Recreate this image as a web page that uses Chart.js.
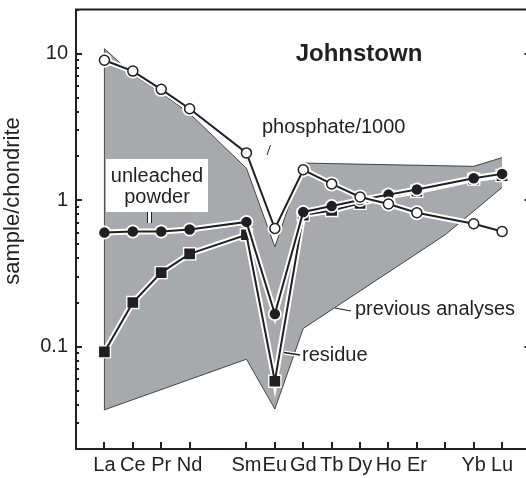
<!DOCTYPE html>
<html>
<head>
<meta charset="utf-8">
<script src="https://cdn.jsdelivr.net/npm/chart.js@4.4.0/dist/chart.umd.min.js"></script>
<style>
  html, body { margin: 0; padding: 0; background: #fff; overflow: hidden; }
  #wrap { width: 540px; height: 478px; }
</style>
</head>
<body>
<div id="wrap"><canvas id="reeChart" width="540" height="478"></canvas></div>
<script>
// REE on atomic number axis (Pm and Tm have no data)
const atomicNo = [57, 58, 59, 60, 62, 63, 64, 65, 66, 67, 68, 70, 71];
const xTickNo = [57, 58, 59, 60, 62, 63, 64, 65, 66, 67, 68, 69, 70, 71];
const xTickLabels = ['La', 'Ce', 'Pr', 'Nd', 'Sm', 'Eu', 'Gd', 'Tb', 'Dy', 'Ho', 'Er', '', 'Yb', 'Lu'];
const yTickLabels = [0.1, 1, 10];

const phosphate = [9.0, 7.6, 5.7, 4.2, 2.1, 0.64, 1.61, 1.29, 1.05, 0.94, 0.82, 0.69, 0.61];
const unleached = [0.60, 0.61, 0.61, 0.63, 0.71, 0.167, 0.83, 0.91, 1.0, 1.09, 1.18, 1.41, 1.51];
const residue = [0.092, 0.20, 0.32, 0.43, 0.58, 0.058, 0.79, 0.85, 0.95, 1.06, 1.15, 1.39, 1.47];

// envelope of previous analyses
const prevUpperX = [57, 58, 59, 60, 62, 63, 64, 70, 71];
const prevUpper = [10.8, 7.2, 5.4, 3.9, 1.65, 0.48, 1.79, 1.70, 1.95];
const prevLowerX = [57, 62, 63, 64, 69, 71];
const prevLower = [0.037, 0.082, 0.0375, 0.133, 0.58, 1.22];

const INK = '#231f20';
const GREY = '#a7a9ac';
const FONT = "'Liberation Sans', Arial, Helvetica, sans-serif";

function pts(xs, ys) { return xs.map((x, i) => ({ x: x, y: ys[i] })); }

function halo(data, style, r, order) {
    return {
        data: data, order: order, borderColor: '#fff', borderWidth: 6,
        pointStyle: style, pointRadius: r, pointBackgroundColor: '#fff',
        pointBorderColor: '#fff', pointBorderWidth: 0, fill: false
    };
}
function series(data, style, r, bg, order) {
    return {
        data: data, order: order, borderColor: INK, borderWidth: 2,
        pointStyle: style, pointRadius: r, pointBackgroundColor: bg,
        pointBorderColor: INK, pointBorderWidth: 1.5, fill: false
    };
}

const frame = {
    id: 'frame',
    afterDraw(chart) {
        const ctx = chart.ctx, a = chart.chartArea;
        const xs = chart.scales.x, ys = chart.scales.y;
        ctx.save();
        ctx.strokeStyle = INK;
        ctx.lineWidth = 2;
        ctx.strokeRect(a.left, a.top, a.right - a.left, a.bottom - a.top);
        // log ticks, inward on both sides
        for (let d = 0.01; d < 100; d *= 10) {
            for (let m = 1; m <= 9; m++) {
                const v = m * d;
                if (v < ys.min || v > ys.max) continue;
                const py = Math.round(ys.getPixelForValue(v));
                const len = m === 1 ? 6 : 3;
                ctx.beginPath();
                ctx.moveTo(a.left, py); ctx.lineTo(a.left + len, py);
                ctx.moveTo(a.right, py); ctx.lineTo(a.right - len, py);
                ctx.stroke();
            }
        }
        xTickNo.forEach(v => {
            const px = Math.round(xs.getPixelForValue(v));
            ctx.beginPath();
            ctx.moveTo(px, a.bottom); ctx.lineTo(px, a.bottom - 7);
            ctx.stroke();
        });
        // axis title
        ctx.fillStyle = INK;
        ctx.font = '22px ' + FONT;
        ctx.translate(19, 201);
        ctx.rotate(-Math.PI / 2);
        ctx.textAlign = 'center';
        ctx.textBaseline = 'alphabetic';
        ctx.fillText('sample/chondrite', 0, 0);
        ctx.restore();
    }
};

const notes = {
    id: 'notes',
    afterDatasetsDraw(chart) {
        const ctx = chart.ctx;
        ctx.save();
        ctx.fillStyle = INK;
        ctx.strokeStyle = INK;
        ctx.textBaseline = 'alphabetic';

        ctx.font = 'bold 24px ' + FONT;
        ctx.textAlign = 'center';
        ctx.fillText('Johnstown', 359, 61);

        ctx.font = '20px ' + FONT;
        ctx.textAlign = 'left';
        ctx.fillText('phosphate/1000', 262, 133);
        ctx.lineWidth = 1;
        ctx.beginPath(); ctx.moveTo(270.5, 145); ctx.lineTo(267, 155); ctx.stroke();

        // unleached powder box
        ctx.fillStyle = '#fff';
        ctx.fillRect(106, 159, 102, 53);
        ctx.fillRect(147, 211, 5, 12);
        ctx.fillStyle = INK;
        ctx.beginPath();
        ctx.moveTo(147.5, 212); ctx.lineTo(147.5, 223);
        ctx.moveTo(151.5, 212); ctx.lineTo(151.5, 223);
        ctx.stroke();
        ctx.textAlign = 'center';
        ctx.fillText('unleached', 157, 182);
        ctx.fillText('powder', 157, 203);

        ctx.textAlign = 'left';
        ctx.fillText('previous analyses', 355, 315);
        ctx.lineWidth = 1.2;
        ctx.beginPath(); ctx.moveTo(335, 308); ctx.lineTo(351, 311); ctx.stroke();

        ctx.fillText('residue', 302, 361);
        ctx.strokeStyle = '#fff';
        ctx.lineWidth = 4;
        ctx.beginPath(); ctx.moveTo(284, 352.5); ctx.lineTo(300, 355); ctx.stroke();
        ctx.strokeStyle = INK;
        ctx.lineWidth = 1.5;
        ctx.beginPath(); ctx.moveTo(284, 352.5); ctx.lineTo(300, 355); ctx.stroke();
        ctx.restore();
    }
};

const ctx = document.getElementById('reeChart').getContext('2d');
window.reeChart = new Chart(ctx, {
    type: 'line',
    data: {
        datasets: [
            series(pts(atomicNo, phosphate), 'circle', 5, '#fff', 1),
            halo(pts(atomicNo, phosphate), 'circle', 7.5, 2),
            series(pts(atomicNo, unleached), 'circle', 4.5, INK, 3),
            halo(pts(atomicNo, unleached), 'circle', 7, 4),
            series(pts(atomicNo, residue), 'rect', 6.5, INK, 5),
            halo(pts(atomicNo, residue), 'rect', 9.5, 6),
            {   // left edge of envelope
                data: [{ x: 57, y: prevLower[0] }, { x: 57, y: prevUpper[0] }],
                order: 7, borderColor: INK, borderWidth: 0.8, pointRadius: 0, fill: false
            },
            {
                data: pts(prevUpperX, prevUpper), order: 8,
                borderColor: INK, borderWidth: 0.8, pointRadius: 0,
                backgroundColor: GREY, fill: { target: 8 }
            },
            {
                data: pts(prevLowerX, prevLower), order: 9,
                borderColor: INK, borderWidth: 0.8, pointRadius: 0, fill: false
            }
        ]
    },
    options: {
        responsive: false,
        animation: false,
        events: [],
        layout: { padding: { top: 6, right: 9, left: 0, bottom: 0 } },
        elements: { line: { tension: 0 } },
        scales: {
            x: {
                type: 'linear', min: 56, max: 72,
                grid: { display: false, drawTicks: false },
                border: { display: false },
                afterBuildTicks: s => { s.ticks = xTickNo.map(v => ({ value: v })); },
                afterFit: s => { s.height = 29; s.paddingLeft = 0; s.paddingRight = 0; },
                ticks: {
                    autoSkip: false, maxRotation: 0, padding: 4, color: INK,
                    font: { family: FONT, size: 20 },
                    callback: v => xTickLabels[xTickNo.indexOf(v)]
                }
            },
            y: {
                type: 'logarithmic', min: 0.02, max: 20,
                grid: { display: false, drawTicks: false },
                border: { display: false },
                afterBuildTicks: s => { s.ticks = yTickLabels.map(v => ({ value: v })); },
                afterFit: s => { s.width = 76; s.paddingTop = 0; s.paddingBottom = 0; },
                ticks: {
                    padding: 8, color: INK,
                    font: { family: FONT, size: 20 },
                    callback: v => String(v)
                }
            }
        },
        plugins: {
            legend: { display: false },
            tooltip: { enabled: false },
            filler: { drawTime: 'beforeDatasetsDraw' }
        }
    },
    plugins: [frame, notes]
});
</script>
</body>
</html>
